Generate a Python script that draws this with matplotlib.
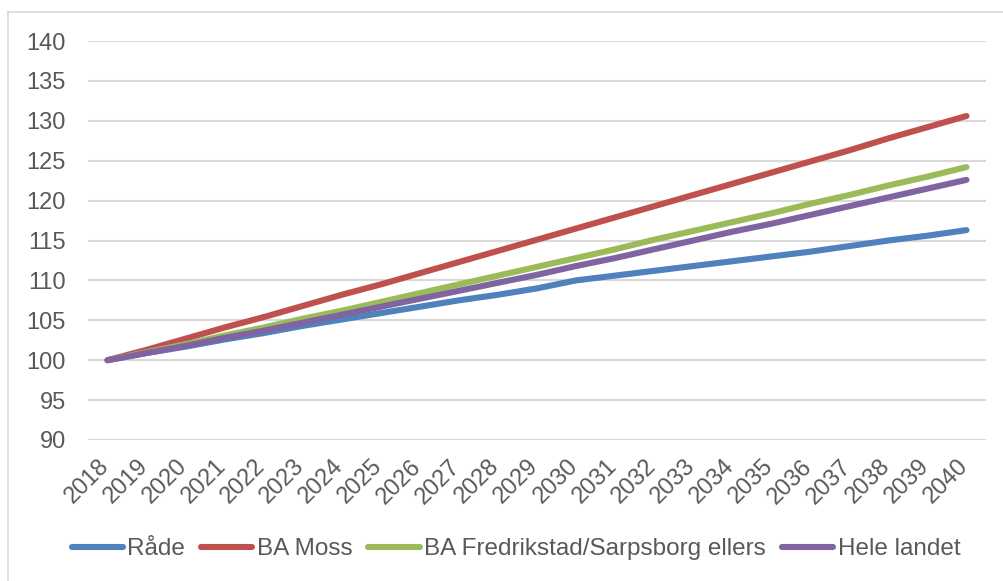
import matplotlib
matplotlib.use("Agg")
import matplotlib.pyplot as plt
import matplotlib.transforms as mtransforms
from matplotlib.lines import Line2D

plt.rcParams['font.family'] = ['Liberation Sans', 'DejaVu Sans']

# Data
years = [str(y) for y in range(2018, 2041)]
raade = [100.0, 100.9, 101.7, 102.6, 103.4, 104.3, 105.1, 105.9, 106.7, 107.5, 108.2, 109.0,
         110.0, 110.6, 111.2, 111.8, 112.4, 113.0, 113.6, 114.3, 115.0, 115.6, 116.3]
ba_moss = [100.0, 101.3, 102.7, 104.1, 105.4, 106.8, 108.2, 109.5, 110.9, 112.3, 113.7, 115.1,
           116.5, 117.9, 119.3, 120.7, 122.1, 123.5, 124.9, 126.3, 127.8, 129.2, 130.6]
ba_fred = [100.0, 101.0, 102.0, 103.1, 104.1, 105.2, 106.2, 107.3, 108.4, 109.5, 110.6, 111.7,
           112.8, 113.9, 115.1, 116.2, 117.3, 118.4, 119.6, 120.7, 121.9, 123.0, 124.2]
hele = [100.0, 100.9, 101.8, 102.8, 103.7, 104.7, 105.7, 106.7, 107.7, 108.7, 109.7, 110.7,
        111.8, 112.8, 113.9, 115.0, 116.1, 117.1, 118.2, 119.3, 120.4, 121.5, 122.6]

series = [
    ("Råde", raade, "#4F81BD"),
    ("BA Moss", ba_moss, "#C0504D"),
    ("BA Fredrikstad/Sarpsborg ellers", ba_fred, "#9BBB59"),
    ("Hele landet", hele, "#8064A2"),
]

text_col = "#595959"
fs = 17

fig = plt.figure(figsize=(10.04, 5.81), dpi=100)
ax = fig.add_axes([88 / 1004, 1 - 440 / 581, (986 - 88) / 1004, (440 - 41) / 581])

x = list(range(len(years)))
for name, vals, col in series:
    ax.plot(x, vals, color=col, lw=4.4, solid_capstyle='round', solid_joinstyle='round', label=name)

ax.set_xlim(-0.5, len(years) - 0.5)
ax.set_ylim(90, 140)
ax.set_yticks(range(90, 141, 5))
ax.set_xticks(x)
ax.set_xticklabels(years, rotation=45, ha='right', va='top')
ax.yaxis.grid(True, color='#D9D9D9', lw=1.5)
ax.set_axisbelow(True)
for s in ax.spines.values():
    s.set_visible(False)
ax.tick_params(axis='both', length=0, labelsize=fs, labelcolor=text_col)
ax.tick_params(axis='y', pad=16)
ax.tick_params(axis='x', pad=11)

# nudge rotated year labels a little to the right, like Excel does
shift = mtransforms.ScaledTranslation(6 / 100, 0, fig.dpi_scale_trans)
for lbl in ax.get_xticklabels():
    lbl.set_transform(lbl.get_transform() + shift)

# chart border (Excel-like)
fig.add_artist(Line2D([8 / 1004, 8 / 1004], [0, 1 - 12 / 581], color='#D9D9D9', lw=1.2))
fig.add_artist(Line2D([8 / 1004, 1], [1 - 12 / 581, 1 - 12 / 581], color='#D9D9D9', lw=1.2))

handles = [Line2D([], [], color=c, lw=4.4, solid_capstyle='round') for _, _, c in series]
fig.legend(handles, [n for n, _, _ in series], loc='center', ncol=4, frameon=False,
           bbox_to_anchor=(516 / 1004, 1 - 549 / 581), fontsize=17.5, labelcolor=text_col,
           handlelength=2.1, handletextpad=0.2, columnspacing=0.65)

fig.savefig("out.png", dpi=100)
